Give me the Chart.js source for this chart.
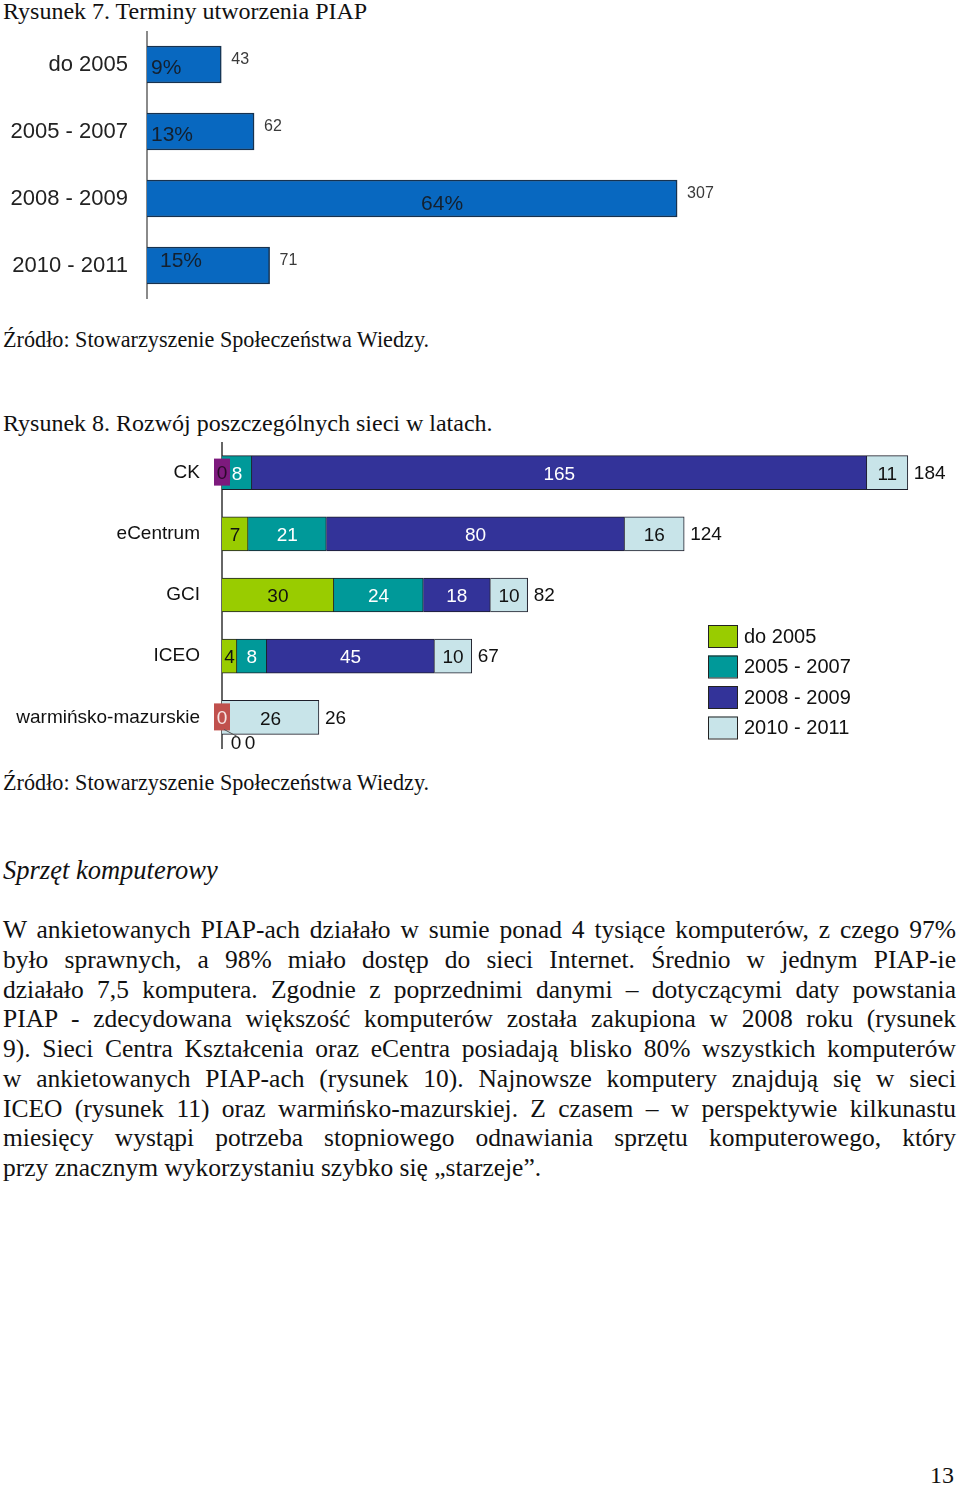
<!DOCTYPE html>
<html>
<head>
<meta charset="utf-8">
<script src="https://cdn.jsdelivr.net/npm/chart.js@4/dist/chart.umd.min.js"></script>
<style>
body{margin:0;background:#fff}
#page{position:relative;width:960px;height:1487px;overflow:hidden;font-family:"Liberation Serif","Times New Roman",serif;color:#111}
.t{position:absolute;left:3px;font-size:24px;line-height:30px;white-space:nowrap}
.src{font-size:22.2px}
#body{position:absolute;left:3px;top:915px;width:953px;font-size:25.5px;line-height:29.75px}
#body div{text-align:justify;text-align-last:justify;white-space:nowrap}
#body div.last{text-align-last:left}
canvas{position:absolute;left:0}
</style>
</head>
<body>
<div id="page">
  <div class="t" style="top:-4px">Rysunek 7. Terminy utworzenia PIAP</div>
  <canvas id="ch1" width="760" height="268" style="top:31px"></canvas>
  <div class="t src" style="top:325px">Źródło: Stowarzyszenie Społeczeństwa Wiedzy.</div>
  <div class="t" style="top:408px">Rysunek 8. Rozwój poszczególnych sieci w latach.</div>
  <canvas id="ch2" width="960" height="316" style="top:442px"></canvas>
  <div class="t src" style="top:768px">Źródło: Stowarzyszenie Społeczeństwa Wiedzy.</div>
  <div class="t" style="top:855px;font-style:italic;font-size:26.5px">Sprzęt komputerowy</div>
  <div id="body">
    <div>W ankietowanych PIAP-ach działało w sumie ponad 4 tysiące komputerów, z czego 97%</div>
    <div>było sprawnych, a 98% miało dostęp do sieci Internet. Średnio w jednym PIAP-ie</div>
    <div>działało 7,5 komputera. Zgodnie z poprzednimi danymi – dotyczącymi daty powstania</div>
    <div>PIAP - zdecydowana większość komputerów została zakupiona w 2008 roku (rysunek</div>
    <div>9). Sieci Centra Kształcenia oraz eCentra posiadają blisko 80% wszystkich komputerów</div>
    <div>w ankietowanych PIAP-ach (rysunek 10). Najnowsze komputery znajdują się w sieci</div>
    <div>ICEO (rysunek 11) oraz warmińsko-mazurskiej. Z czasem – w perspektywie kilkunastu</div>
    <div>miesięcy wystąpi potrzeba stopniowego odnawiania sprzętu komputerowego, który</div>
    <div class="last">przy znacznym wykorzystaniu szybko się „starzeje”.</div>
  </div>
  <div class="t" style="left:930px;top:1460px">13</div>
</div>
<script>
// rysunek 7
const periods = ['do 2005', '2005 - 2007', '2008 - 2009', '2010 - 2011']
const piapCounts = [43, 62, 307, 71]

// rysunek 8
const networks = ['CK', 'eCentrum', 'GCI', 'ICEO', 'warmińsko-mazurskie']
const seriesNames = ['do 2005', '2005 - 2007', '2008 - 2009', '2010 - 2011']
const sDo2005 = [0, 7, 30, 4, 0]
const s2005_2007 = [8, 21, 24, 8, 0]
const s2008_2009 = [165, 80, 18, 45, 0]
const s2010_2011 = [11, 16, 10, 10, 26]

const sans = '"Liberation Sans", Arial, sans-serif'
Chart.defaults.font.family = sans
Chart.defaults.animation = false

const ch1Labels = {
    id: 'ch1Labels',
    afterDraw(chart) {
        const ctx = chart.ctx
        const total = piapCounts.reduce((a, b) => a + b, 0)
        const meta = chart.getDatasetMeta(0)
        ctx.save()
        ctx.textBaseline = 'middle'
        meta.data.forEach((bar, i) => {
            const pct = Math.round(piapCounts[i] / total * 100) + '%'
            ctx.font = '21px ' + sans
            ctx.fillStyle = '#14202e'
            if (bar.x - bar.base > 300) {
                ctx.textAlign = 'center'
                ctx.fillText(pct, (bar.x + bar.base) / 2 + 30, bar.y + 6)
            } else {
                ctx.textAlign = 'left'
                ctx.fillText(pct, bar.base + 4 + (i === 3 ? 9 : 0), bar.y + (i === 3 ? -4 : 4))
            }
            ctx.font = '16px ' + sans
            ctx.fillStyle = '#3a3a3a'
            ctx.textAlign = 'left'
            ctx.fillText(piapCounts[i], bar.x + 10, bar.y - 5)
        })
        ctx.restore()
    }
}

new Chart('ch1', {
    type: 'bar',
    data: {
        labels: periods,
        datasets: [{
            data: piapCounts,
            backgroundColor: '#0868c0',
            borderColor: '#17324f',
            borderWidth: 1.5,
            barThickness: 37
        }]
    },
    options: {
        indexAxis: 'y',
        responsive: false,
        layout: {padding: 0},
        plugins: {legend: {display: false}, tooltip: {enabled: false}},
        scales: {
            x: {display: false, min: 0, max: 355},
            y: {
                grid: {display: false},
                border: {display: true, color: '#8a8a8a', width: 2},
                ticks: {color: '#222', padding: 11, font: {size: 22}},
                afterFit(scale) {
                    scale.width = 147
                    scale.paddingTop = 0
                    scale.paddingBottom = 0
                }
            }
        }
    },
    plugins: [ch1Labels]
})

const segColors = ['#99cc00', '#009999', '#333399', '#c8e4e9']
const segText = ['#111', '#fff', '#fff', '#111']
const zeroBox = {0: ['#7d1a7d', '#2a0a2a'], 4: ['#c0504d', '#f6e4e4']}

const ch2Labels = {
    id: 'ch2Labels',
    afterDraw(chart) {
        const ctx = chart.ctx
        const area = chart.chartArea
        ctx.save()
        ctx.font = '19px ' + sans
        ctx.textBaseline = 'middle'
        ctx.textAlign = 'center'
        chart.data.datasets.forEach((ds, i) => {
            chart.getDatasetMeta(i).data.forEach((bar, j) => {
                const v = ds.data[j]
                if (v > 0) {
                    ctx.fillStyle = segText[i]
                    ctx.fillText(v, (bar.x + bar.base) / 2, bar.y + 2)
                } else if (i === 0) {
                    const c = zeroBox[j] || ['#999', '#111']
                    ctx.fillStyle = c[0]
                    ctx.fillRect(bar.base - 8, bar.y - 14, 16, 27)
                    ctx.fillStyle = c[1]
                    ctx.fillText('0', bar.base, bar.y + 1)
                } else {
                    ctx.fillStyle = '#111'
                    ctx.fillText('0', bar.base + 14 * i, bar.y + 26)
                    if (i === 1) {
                        ctx.strokeStyle = '#555'
                        ctx.lineWidth = 1
                        ctx.beginPath()
                        ctx.moveTo(bar.base + 2, bar.y + 12)
                        ctx.lineTo(bar.base + 15, bar.y + 19)
                        ctx.stroke()
                    }
                }
            })
        })
        // sumy na koncu slupkow
        const last = chart.getDatasetMeta(chart.data.datasets.length - 1)
        ctx.textAlign = 'left'
        ctx.fillStyle = '#111'
        networks.forEach((n, j) => {
            const sum = chart.data.datasets.reduce((a, ds) => a + ds.data[j], 0)
            ctx.fillText(sum, last.data[j].x + 6, last.data[j].y + 1)
        })
        // legenda
        ctx.font = '20px ' + sans
        seriesNames.forEach((name, i) => {
            const y = area.top + 183 + i * 30.5
            ctx.fillStyle = segColors[i]
            ctx.fillRect(area.left + 486, y, 29, 22)
            ctx.strokeStyle = '#222'
            ctx.lineWidth = 1
            ctx.strokeRect(area.left + 486.5, y + 0.5, 29, 22)
            ctx.fillStyle = '#111'
            ctx.fillText(name, area.left + 522, y + 12)
        })
        ctx.restore()
    }
}

new Chart('ch2', {
    type: 'bar',
    data: {
        labels: networks,
        datasets: [sDo2005, s2005_2007, s2008_2009, s2010_2011].map((d, i) => ({
            label: seriesNames[i],
            data: d,
            backgroundColor: segColors[i],
            borderColor: '#1e1e2a',
            borderWidth: 1,
            barThickness: 34
        }))
    },
    options: {
        indexAxis: 'y',
        responsive: false,
        layout: {padding: {bottom: 10}},
        plugins: {legend: {display: false}, tooltip: {enabled: false}},
        scales: {
            x: {display: false, stacked: true, min: 0, max: 198},
            y: {
                stacked: true,
                grid: {display: false},
                border: {display: true, color: '#666', width: 2},
                ticks: {color: '#111', padding: 14, font: {size: 19}},
                afterFit(scale) {
                    scale.width = 222
                    scale.paddingTop = 0
                    scale.paddingBottom = 0
                }
            }
        }
    },
    plugins: [ch2Labels]
})
</script>
</body>
</html>
